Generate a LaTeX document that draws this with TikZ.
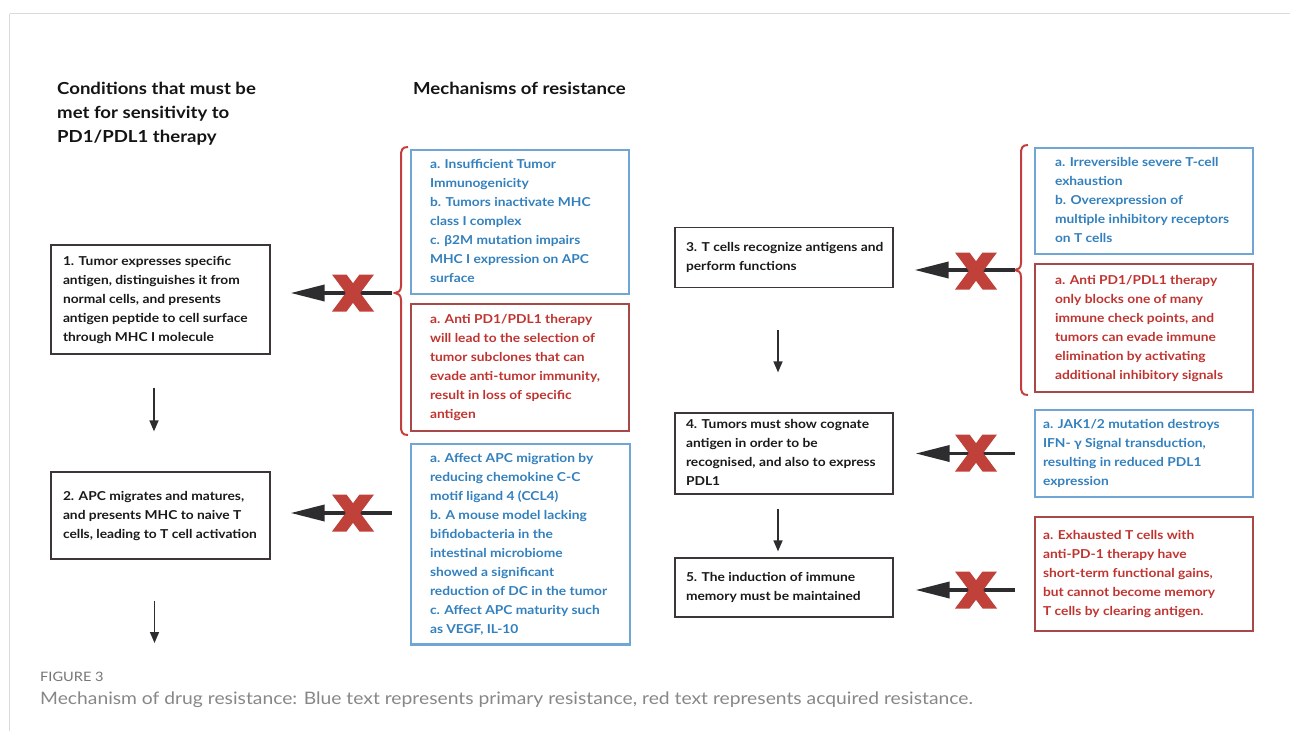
\documentclass[tikz,border=0pt]{standalone}
\usepackage{fontspec}
\setmainfont{Lato}[FakeStretch=1.12]
\usetikzlibrary{arrows.meta}
\definecolor{bluetxt}{RGB}{50,128,190}
\definecolor{blueline}{RGB}{112,166,214}
\definecolor{redtxt}{RGB}{192,52,48}
\definecolor{redline}{RGB}{168,72,72}
\definecolor{bracered}{RGB}{196,62,62}
\definecolor{xred}{RGB}{192,64,58}
\definecolor{boxline}{RGB}{60,54,54}
\definecolor{arrowdark}{RGB}{45,45,48}
\definecolor{framegray}{RGB}{218,218,218}
\definecolor{captiongray}{RGB}{135,135,135}
\definecolor{figgray}{RGB}{118,118,118}
\newcommand\bxt[2]{\makebox[#1][l]{\begin{tabular}{@{}l@{}}#2\end{tabular}}}
\tikzset{
  boxfont/.style={font=\fontsize{12.3pt}{19pt}\selectfont\bfseries},
  condbox/.style={draw=boxline, line width=1.2pt, rectangle, inner sep=0pt, boxfont, text=black!90},
  bluebox/.style={draw=blueline, line width=1.2pt, rectangle, inner sep=0pt, boxfont, text=bluetxt},
  redbox/.style={draw=redline, line width=1.2pt, rectangle, inner sep=0pt, boxfont, text=redtxt},
  downarrow/.style={draw=arrowdark, line width=1.6pt, -{Triangle[length=11pt,width=9pt]}},
  blockarrow/.style={draw=arrowdark, line width=3.6pt, -{Triangle[length=34pt,width=16pt]}},
  bracepath/.style={draw=bracered, line width=2pt},
  heading/.style={font=\fontsize{16.6pt}{24pt}\selectfont\bfseries, text=black!92, align=left, inner sep=0pt},
  redx/.pic={\fill[xred] (-21,-18.5) -- (-6.5,-18.5) -- (0,-9.75) -- (6.5,-18.5) -- (21,-18.5) -- (7.25,0) -- (21,18.5) -- (6.5,18.5) -- (0,9.75) -- (-6.5,18.5) -- (-21,18.5) -- (-7.25,0) -- cycle;}
}
\begin{document}
\begin{tikzpicture}[x=1pt,y=-1pt]
\useasboundingbox (0,0) rectangle (1290,731);
% frame
\draw[framegray, line width=1.8pt] (10,13.5) -- (1290,13.5);
\draw[framegray, line width=1pt] (9,13.5) -- (9,731);

% headings
\node[heading, anchor=north west] (h1) at (57,82) {Conditions that must be\\met for sensitivity to\\PD1/PDL1 therapy};
\node[heading, anchor=north west] (h2) at (413,82) {Mechanisms of resistance};

% condition boxes
\node[condbox, minimum width=219pt, minimum height=109pt] (c1) at (160.5,299.5)
  {\bxt{195pt}{1. Tumor expresses specific\\antigen, distinguishes it from\\normal cells, and presents\\antigen peptide to cell surface\\through MHC I molecule}};
\node[condbox, minimum width=219pt, minimum height=87pt] (c2) at (160.5,515.5)
  {\bxt{195pt}{2. APC migrates and matures,\\and presents MHC to naive T\\cells, leading to T cell activation}};
\node[condbox, minimum width=218pt, minimum height=60pt] (c3) at (784,257.5)
  {\bxt{196pt}{3. T cells recognize antigens and\\perform functions}};
\node[condbox, minimum width=218pt, minimum height=81pt] (c4) at (784,453.5)
  {\bxt{196pt}{4. Tumors must show cognate\\antigen in order to be\\recognised, and also to express\\PDL1}};
\node[condbox, minimum width=218pt, minimum height=59pt] (c5) at (784,587.5)
  {\bxt{196pt}{5. The induction of immune\\memory must be maintained}};

% mechanism boxes
\node[bluebox, minimum width=218pt, minimum height=144pt] (b1) at (520,222)
  {\bxt{180pt}{a. Insufficient Tumor\\Immunogenicity\\b. Tumors inactivate MHC\\class I complex\\c. β2M mutation impairs\\MHC I expression on APC\\surface}};
\node[redbox, minimum width=218pt, minimum height=127pt] (r1) at (520,367.5)
  {\bxt{180pt}{a. Anti PD1/PDL1 therapy\\will lead to the selection of\\tumor subclones that can\\evade anti-tumor immunity,\\result in loss of specific\\antigen}};
\node[bluebox, minimum width=219pt, minimum height=201pt] (b2) at (520.5,544.5)
  {\bxt{181pt}{a. Affect APC migration by\\reducing chemokine C-C\\motif ligand 4 (CCL4)\\b. A mouse model lacking\\bifidobacteria in the\\intestinal microbiome\\showed a significant\\reduction of DC in the tumor\\c. Affect APC maturity such\\as VEGF, IL-10}};
\draw[blueline, line width=1.2pt] (b2.south west) ++(0,-1.8) -- ([yshift=1.8pt]b2.south east);
\node[bluebox, minimum width=218pt, minimum height=106pt] (b3) at (1144,201)
  {\bxt{178pt}{a. Irreversible severe T-cell\\exhaustion\\b. Overexpression of\\multiple inhibitory receptors\\on T cells}};
\node[redbox, minimum width=218pt, minimum height=128pt] (r3) at (1144,328)
  {\bxt{178pt}{a. Anti PD1/PDL1 therapy\\only blocks one of many\\immune check points, and\\tumors can evade immune\\elimination by activating\\additional inhibitory signals}};
\node[bluebox, minimum width=218pt, minimum height=87pt] (b4) at (1144,453.5)
  {\bxt{202pt}{a. JAK1/2 mutation destroys\\IFN- γ Signal transduction,\\resulting in reduced PDL1\\expression}};
\node[redbox, minimum width=218pt, minimum height=114pt] (r5) at (1144,574)
  {\bxt{202pt}{a. Exhausted T cells with\\anti-PD-1 therapy have\\short-term functional gains,\\but cannot become memory\\T cells by clearing antigen.}};

% braces
\draw[bracepath] (408,147) .. controls (402,147) and (401,150) .. (401,156) -- (401,286)
  .. controls (401,291) and (398,293) .. (395,293) coordinate (t1)
  .. controls (398,293) and (401,295) .. (401,300) -- (401,426)
  .. controls (401,432) and (402,435) .. (408,435);
\draw[bracepath] (1028,145) .. controls (1022,145) and (1021,148) .. (1021,154) -- (1021,263)
  .. controls (1021,268) and (1018,270) .. (1015,270) coordinate (t3)
  .. controls (1018,270) and (1021,272) .. (1021,277) -- (1021,386)
  .. controls (1021,392) and (1022,395) .. (1028,395);

% free-end coordinates
\coordinate (s2) at (392,513);
\coordinate (s4) at (1015,453.5);
\coordinate (s5) at (1015,590);
\coordinate (a2e) at (154.5,643);

% vertical arrows
\draw[downarrow, shorten <=33pt, shorten >=40pt] ([xshift=-6.5pt]c1.south) -- ([xshift=-6.5pt]c2.north);
\draw[downarrow, shorten <=41pt] ([xshift=-6pt]c2.south) -- (a2e);
\draw[downarrow, shorten <=42pt, shorten >=40pt] ([xshift=-6pt]c3.south) -- ([xshift=-6pt]c4.north);
\draw[downarrow, shorten <=14pt, shorten >=6pt] ([xshift=-6pt]c4.south) -- ([xshift=-6pt]c5.north);

% blocked arrows
\draw[blockarrow, shorten <=3pt, shorten >=20pt] (t1) -- (t1 -| c1.east);
\draw[blockarrow, shorten >=20pt] (s2) -- (s2 -| c2.east);
\draw[blockarrow, shorten >=21pt] (t3) -- (t3 -| c3.east);
\draw[blockarrow, shorten >=22pt] (s4) -- (s4 -| c4.east);
\draw[blockarrow, shorten >=22pt] (s5) -- (s5 -| c5.east);
\pic at (353,293) {redx};
\pic at (353,513) {redx};
\pic at (976,271) {redx};
\pic at (976,453) {redx};
\pic at (976,590) {redx};

% caption
\node[anchor=west, inner sep=0pt, font=\fontsize{13pt}{15pt}\selectfont, text=figgray] (fig) at (40,677) {FIGURE 3};
\node[anchor=west, inner sep=0pt, font=\fontsize{17.2pt}{20pt}\selectfont, text=captiongray] (cap) at (40,700) {Mechanism of drug resistance: Blue text represents primary resistance, red text represents acquired resistance.};
\end{tikzpicture}
\end{document}
